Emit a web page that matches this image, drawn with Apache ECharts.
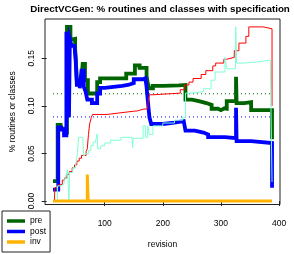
<!DOCTYPE html>
<html>
<head>
<meta charset="utf-8">
<script src="https://cdn.jsdelivr.net/npm/echarts@6/dist/echarts.min.js"></script>
<style>html,body{margin:0;padding:0;background:#fff}#c{width:294px;height:254px}</style>
</head>
<body>
<div id="c"></div>
<script>
// ---- data ----
const titleText = 'DirectVCGen: % routines and classes with specification';
const xTicks = [100, 200, 300, 400];
const yTicks = [0, 0.05, 0.10, 0.15];

const preRev = [11, 19, 24, 31, 35, 41, 45, 49, 50, 52, 60, 62, 66, 71, 87, 92, 137, 152, 160, 172, 174, 177, 183, 200, 228, 239, 250, 262, 275, 284, 295, 300, 306, 310, 326, 327, 340, 352, 388];
const preVal = [0.021, 0.080, 0.076, 0.072, 0.183, 0.170, 0.1705, 0.160, 0.152, 0.127, 0.125, 0.144, 0.127, 0.113, 0.125, 0.129, 0.134, 0.1425, 0.140, 0.132, 0.124, 0.1185, 0.121, 0.1215, 0.122, 0.1065, 0.105, 0.103, 0.101, 0.097, 0.0955, 0.0975, 0.097, 0.105, 0.1305, 0.103, 0.104, 0.0955, 0.065];

const postRev = [11, 20, 25, 30, 34, 37, 38.5, 40, 43, 48, 50, 52, 57, 60, 64, 67, 70, 78, 87, 92, 100, 130, 140, 150, 166, 170, 172, 175, 177, 180, 200, 220, 236, 239, 255, 270, 278, 307, 326, 327, 352, 388];
const postVal = [0.012, 0.0775, 0.075, 0.069, 0.178, 0.165, 0.088, 0.170, 0.163, 0.161, 0.1475, 0.122, 0.1185, 0.137, 0.120, 0.115, 0.1065, 0.103, 0.113, 0.119, 0.121, 0.122, 0.124, 0.128, 0.129, 0.127, 0.120, 0.100, 0.088, 0.081, 0.0825, 0.084, 0.086, 0.074, 0.072, 0.070, 0.0672, 0.066, 0.098, 0.063, 0.061, 0.014];

const invRev = [11, 70, 71.5, 388];
const invVal = [0, 0.028, 0, 0];

const redRev = [13.5, 14, 17, 19, 23, 27, 31, 35, 39, 44, 48, 52, 56, 60, 68, 70, 72, 74, 77, 79, 104, 124, 151, 152, 155, 166, 174, 175, 177, 183, 230, 237, 245, 252, 266, 274, 286, 291, 305, 310, 323, 331, 343, 348, 373, 388];
const redVal = [0, 0.014, 0.0145, 0.017, 0.0176, 0.022, 0.0244, 0.028, 0.031, 0.035, 0.038, 0.042, 0.045, 0.048, 0.052, 0.055, 0.070, 0.081, 0.088, 0.091, 0.0925, 0.0945, 0.0925, 0.0945, 0.0965, 0.097, 0.098, 0.106, 0.1117, 0.1134, 0.117, 0.122, 0.125, 0.1288, 0.133, 0.137, 0.142, 0.145, 0.149, 0.151, 0.158, 0.166, 0.173, 0.183, 0.181, 0.10];

const aquaRev = [18, 18.5, 19, 25, 30, 33, 36, 38.5, 39.5, 45, 50, 53, 55, 62, 64, 67, 72, 76, 80, 84, 87, 88, 93, 100, 110, 128, 147, 148, 149, 166, 170, 174, 177, 183, 200, 220, 234, 239, 250, 270, 283, 290, 307, 310, 325, 325.5, 327, 340, 360, 385, 388];
const aquaVal = [0.016, 0.002, 0.016, 0.018, 0.021, 0.026, 0.033, 0.0, 0.030, 0.035, 0.038, 0.050, 0.067, 0.069, 0.047, 0.050, 0.053, 0.058, 0.062, 0.0638, 0.0706, 0.055, 0.058, 0.061, 0.064, 0.067, 0.067, 0.056, 0.066, 0.079, 0.067, 0.079, 0.070, 0.079, 0.082, 0.085, 0.088, 0.1134, 0.115, 0.118, 0.127, 0.1356, 0.151, 0.139, 0.141, 0.183, 0.145, 0.146, 0.148, 0.149, 0.02];

const meanRev = [11, 386];
const preMean = [0.1127, 0.1127];
const postMean = [0.0884, 0.0884];

// ---- chart ----
const zip = (a, b) => a.map((x, i) => [x, b[i]]);
const FONT = '"Liberation Sans", Arial, sans-serif';
const chart = echarts.init(document.getElementById('c'), null, {renderer: 'canvas'});

function stepSeries(name, rev, val, color, width, z) {
  return {
    name, type: 'line', step: 'end', data: zip(rev, val),
    showSymbol: false, symbol: 'none', z,
    lineStyle: {color, width, cap: 'butt', join: 'miter'},
    itemStyle: {color},
    emphasis: {disabled: true}
  };
}

chart.setOption({
  animation: false,
  backgroundColor: '#fff',
  title: {
    text: titleText, left: 160, top: 4, textAlign: 'center', padding: 0,
    textStyle: {fontFamily: FONT, fontSize: 9.8, fontWeight: 'bold', color: '#000'}
  },
  grid: {left: 40, top: 19, right: 14, bottom: 45, show: true, borderColor: '#222', borderWidth: 1, backgroundColor: 'transparent'},
  legend: {
    data: ['pre', 'post', 'inv'], orient: 'vertical', left: 2, top: 211,
    padding: [5, 4, 5, 5], itemGap: 0.5, itemWidth: 18, itemHeight: 3.5, itemTextGap: 6,
    icon: 'rect', borderColor: '#222', borderWidth: 1, backgroundColor: '#fff',
    textStyle: {fontFamily: FONT, fontSize: 8.5, color: '#000', lineHeight: 10}
  },
  xAxis: {
    type: 'value', min: -2.8, max: 401.7,
    name: 'revision', nameLocation: 'middle', nameGap: 40,
    nameTextStyle: {fontFamily: FONT, fontSize: 8.5, color: '#000', align: 'center', verticalAlign: 'middle'},
    axisLine: {show: false},
    axisTick: {show: true, inside: false, length: 5, customValues: xTicks, lineStyle: {color: '#222'}},
    axisLabel: {customValues: xTicks, margin: 19, align: 'center', verticalAlign: 'middle',
      fontFamily: FONT, fontSize: 8.5, color: '#000'},
    splitLine: {show: false}
  },
  yAxis: {
    type: 'value', min: -0.0036, max: 0.1913,
    name: '% routines or classes', nameLocation: 'middle', nameGap: 32.5, nameRotate: 90,
    nameTextStyle: {fontFamily: FONT, fontSize: 8.5, color: '#000', align: 'center', verticalAlign: 'middle'},
    axisLine: {show: false},
    axisTick: {show: true, inside: false, length: 5, customValues: yTicks, lineStyle: {color: '#222'}},
    axisLabel: {customValues: yTicks, rotate: 90, margin: 13, align: 'center', verticalAlign: 'middle',
      fontFamily: FONT, fontSize: 8.5, color: '#000', formatter: v => v.toFixed(2)},
    splitLine: {show: false}
  },
  series: [
    {name: 'pre mean', type: 'line', data: zip(meanRev, preMean), showSymbol: false, z: 1,
      lineStyle: {color: '#006400', width: 1, type: [1, 3]}},
    {name: 'post mean', type: 'line', data: zip(meanRev, postMean), showSymbol: false, z: 1,
      lineStyle: {color: '#0000FF', width: 1, type: [1, 3]}},
    stepSeries('pre', preRev, preVal, '#006400', 3.8, 2),
    stepSeries('post', postRev, postVal, '#0000FF', 3.8, 3),
    stepSeries('routines', redRev, redVal, '#FF0000', 1, 4),
    stepSeries('classes', aquaRev, aquaVal, '#7FFFD4', 1, 5),
    stepSeries('inv', invRev, invVal, '#FFB300', 3, 6)
  ]
});
</script>
</body>
</html>
